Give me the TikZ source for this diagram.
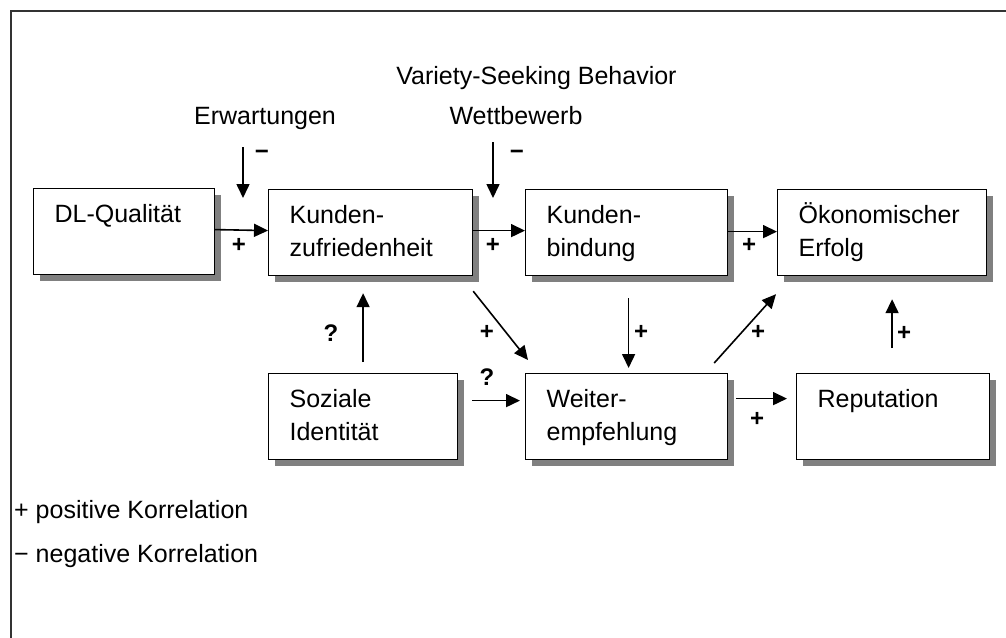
\documentclass[tikz,border=0pt]{standalone}
\usepackage{fontspec}
\setmainfont{Liberation Sans}
\usetikzlibrary{arrows.meta, shadows, calc}

\tikzset{
  box/.style={draw, line width=1.2pt, fill=white, align=left, anchor=north west,
    inner xsep=21pt, inner ysep=0pt, minimum height=86pt,
    font=\fontsize{25}{33}\selectfont,
    execute at begin node=\rule{0pt}{23pt},
    execute at end node=\rule[-8pt]{0pt}{8pt},
    drop shadow={shadow xshift=6pt, shadow yshift=-6pt, fill=black!50, opacity=1}},
  txt/.style={font=\fontsize{25}{33}\selectfont, inner sep=0pt},
  sign/.style={font=\bfseries\fontsize{24}{24}\selectfont, inner sep=0pt},
  arr/.style={-{Triangle[length=14pt,width=13pt]}, line width=1.6pt},
}

\begin{document}
\begin{tikzpicture}[x=1pt, y=-1pt]
    \useasboundingbox (0,0) rectangle (1006,637);
    % frame (top and left edge only)
    \draw[line width=2pt, black!80] (1010,10.5) -- (10.5,10.5) -- (10.5,640);

    % boxes
    \node[box, text width=139pt] (dl)  at (33,188)  {DL-Qualität\\\mbox{}};
    \node[box, text width=162pt] (kz)  at (268,189) {Kunden-\\zufriedenheit};
    \node[box, text width=160pt] (kb)  at (525,189) {Kunden-\\bindung};
    \node[box, text width=167pt] (oe)  at (777,189) {Ökonomischer\\Erfolg};
    \node[box, text width=147pt] (si)  at (268,373) {Soziale\\Identität};
    \node[box, text width=160pt] (we)  at (525,373) {Weiter-\\empfehlung};
    \node[box, text width=151pt] (rep) at (796,373) {Reputation\\\mbox{}};

    % moderators
    \node[txt, anchor=base] (var) at (536.5,84) {Variety-Seeking Behavior};
    \node[txt, anchor=base] (erw) at (265,124) {Erwartungen};
    \node[txt, anchor=base] (wet) at (516,124) {Wettbewerb};
    \coordinate (erwtip) at (243,198);
    \coordinate (wettip) at (493,198);
    \draw[arr, shorten <=18pt] (erw.south -| erwtip) -- (erwtip);
    \draw[arr, shorten <=18pt] (wet.south -| wettip) -- (wettip);

    % connectors
    \draw[arr] ($(dl.east)+(0,-2)$) -- ($(kz.west)+(0,-2)$);
    \draw[arr] ($(kz.east)+(0,-2)$) -- ($(kb.west)+(0,-2)$);
    \draw[arr] ($(kb.east)+(0,-1)$) -- ($(oe.west)+(0,-1)$);
    \draw[arr] ($(kz.south east)+(0,15)$) -- ($(we.north west)+(3,-13)$);
    \draw[arr, shorten <=22pt, shorten >=5pt] ($(kb.south)+(2,0)$) -- ($(we.north)+(2,0)$);
    \draw[arr] ($(we.north east)+(-14,-10)$) -- ($(oe.south west)+(-1,18)$);
    \draw[arr, shorten <=11pt, shorten >=17pt] (si.north) -- (si.north |- kz.south);
    \draw[arr] ($(si.east)+(14,-16)$) -- ($(we.west)+(-5,-16)$);
    \draw[arr] ($(we.east)+(8,-18)$) -- ($(rep.west)+(-9,-18)$);
    \draw[arr, shorten <=25pt, shorten >=23pt] ($(rep.north)+(-1,0)$) -- ($(rep.north |- oe.south)+(-1,0)$);

    % signs
    \node[sign] (m1) at (262,155) {−};
    \node[sign] (m2) at (517,155) {−};
    \node[sign] (p1) at (239,245) {+};
    \node[sign] (p2) at (493,245) {+};
    \node[sign] (p3) at (749,245) {+};
    \node[sign] (p4) at (487,332) {+};
    \node[sign] (p5) at (641,332) {+};
    \node[sign] (p6) at (758,332) {+};
    \node[sign] (p7) at (904,333) {+};
    \node[sign] (q1) at (331,333) {?};
    \node[sign] (q2) at (487,377) {?};
    \node[sign] (p8) at (757,419) {+};

    % legend
    \node[txt, anchor=west] (lpos) at (14,512) {+ positive Korrelation};
    \node[txt, anchor=west] (lneg) at (14,556) {− negative Korrelation};
\end{tikzpicture}
\end{document}
